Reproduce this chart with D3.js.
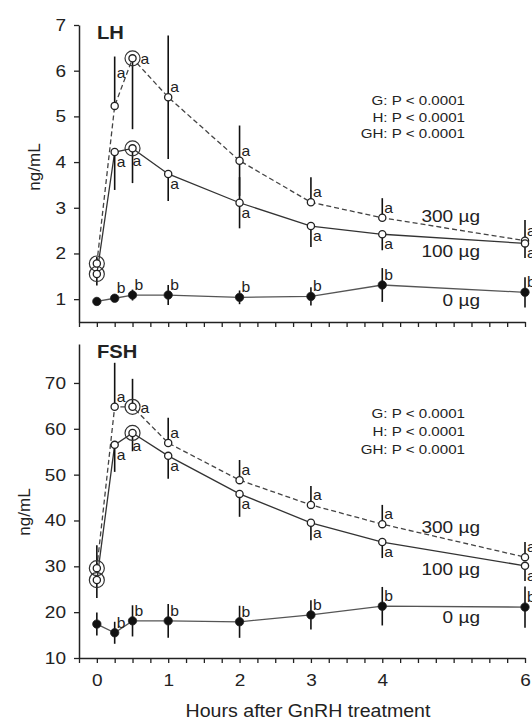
<!DOCTYPE html>
<html><head><meta charset="utf-8">
<script src="https://cdn.jsdelivr.net/npm/d3@7"></script>
<style>html,body{margin:0;padding:0;background:#fff;} svg{display:block;}</style>
</head><body>
<svg id="c" width="532" height="719"></svg>
<script>
// ---------- data ----------
const hours = [0, 0.25, 0.5, 1, 2, 3, 4, 6];
const xTickLabels = [0, 1, 2, 3, 4, 6];
const lhTicks = [1, 2, 3, 4, 5, 6, 7];
const fshTicks = [10, 20, 30, 40, 50, 60, 70];
const ringHours = [0, 0.5];

// LH (ng/mL)
const lh300 = [1.78, 5.23, 6.27, 5.42, 4.03, 3.12, 2.78, 2.28];
const lh300Up = [0.15, 1.08, 0, 1.35, 0.77, 0.55, 0.43, 0.45];
const lh300Down = [0, 0, 1.55, 1.35, 0.77, 0, 0, 0];
const lh100 = [1.55, 4.22, 4.30, 3.74, 3.11, 2.60, 2.42, 2.22];
const lh100Up = [0, 0, 0, 0, 0.56, 0, 0, 0];
const lh100Down = [0.25, 0.83, 0.76, 0.59, 0.56, 0.46, 0.35, 0.32];
const lh0 = [0.95, 1.02, 1.09, 1.09, 1.04, 1.06, 1.31, 1.15];
const lh0Err = [0.08, 0.06, 0.12, 0.22, 0.15, 0.20, 0.37, 0.33];

// FSH (ng/mL)
const fsh300 = [29.6, 64.8, 64.8, 56.9, 48.8, 43.4, 39.2, 32.0];
const fsh300Up = [5.0, 9.6, 6.1, 5.5, 4.4, 4.1, 4.2, 3.3];
const fsh300Down = [0, 0, 0, 0, 0, 0, 0, 0];
const fsh100 = [27.0, 56.5, 59.1, 54.1, 45.8, 39.5, 35.3, 30.1];
const fsh100Up = [0, 0, 0, 0, 0, 0, 0, 0];
const fsh100Down = [3.9, 5.9, 4.0, 5.0, 5.0, 3.8, 3.5, 3.3];
const fsh0 = [17.4, 15.5, 18.1, 18.1, 17.9, 19.4, 21.3, 21.1];
const fsh0Err = [2.5, 2.4, 3.4, 3.7, 3.5, 3.2, 4.2, 4.5];

// significance letters
const letters300 = ["", "a", "a", "a", "a", "a", "a", "a"];
const letters100 = ["", "a", "a", "a", "a", "a", "a", "a"];
const letters0 = ["", "b", "b", "b", "b", "b", "b", "b"];

const groupLabels = ["300 µg", "100 µg", "0 µg"];
const statsLines = ["G: P < 0.0001", "H: P < 0.0001", "GH: P < 0.0001"];
const panelTitles = ["LH", "FSH"];
const yTitle = "ng/mL";
const xTitle = "Hours after GnRH treatment";

// ---------- drawing ----------
const FONT = "'Liberation Sans', Arial, Helvetica, sans-serif";
const S = 1.12;          // horizontal text stretch
const INK = "#222";
const svg = d3.select("#c");

const x = d3.scaleLinear().domain([-0.25, 6]).range([79, 525]);
const xTicks = d3.range(-1, 25).map(i => i / 4);

function txt(g, px, py, str, size, anchor, weight) {
  const t = g.append("text")
    .attr("transform", `translate(${px},${py}) scale(${S},1)`)
    .attr("font-family", FONT).attr("font-size", size)
    .attr("fill", INK).attr("text-anchor", anchor || "start")
    .text(str);
  if (weight) t.attr("font-weight", weight);
  return t;
}

const panels = [
  { y: d3.scaleLinear().domain([0.5, 7]).range([322, 25]), ticks: lhTicks,
    v300: lh300, up300: lh300Up, dn300: lh300Down,
    v100: lh100, up100: lh100Up, dn100: lh100Down, v0: lh0, e0: lh0Err,
    title: panelTitles[0], titleY: 39, statsY: [105, 122, 138], groupY: [222, 257, 306],
    showX: false, ylabX: 40, ylabY: 167 },
  { y: d3.scaleLinear().domain([10, 78.5]).range([658, 344]), ticks: fshTicks,
    v300: fsh300, up300: fsh300Up, dn300: fsh300Down,
    v100: fsh100, up100: fsh100Up, dn100: fsh100Down, v0: fsh0, e0: fsh0Err,
    title: panelTitles[1], titleY: 358, statsY: [418, 436, 454], groupY: [533, 575, 623],
    showX: true, ylabX: 30, ylabY: 512 }
];

panels.forEach((p, pi) => {
  const y = p.y;
  const g = svg.append("g");
  const y0 = y.range()[0];

  // axes
  const ya = g.append("g").attr("transform", "translate(79,0)")
    .call(d3.axisLeft(y).tickValues(p.ticks).tickSize(5).tickPadding(8).tickSizeOuter(0)
      .tickFormat(d3.format("d")));
  const xa = g.append("g").attr("transform", `translate(0,${y0})`)
    .call(d3.axisBottom(x).tickValues(xTicks).tickSize(5).tickPadding(11).tickSizeOuter(0)
      .tickFormat(d => (p.showX && xTickLabels.includes(d)) ? d : ""));
  [ya, xa].forEach(a => {
    a.select(".domain").attr("stroke", INK).attr("stroke-width", 1.5);
    a.selectAll(".tick line").attr("stroke", INK).attr("stroke-width", 1.3);
    a.selectAll("text").attr("font-family", FONT).attr("font-size", 17).attr("fill", INK)
      .each(function () {
        const t = d3.select(this);
        const tx = +t.attr("x") || 0, ty = +t.attr("y") || 0;
        t.attr("x", 0).attr("y", 0).attr("transform", `translate(${tx},${ty}) scale(${S},1)`);
      });
  });

  // y title
  g.append("text").attr("transform", `translate(${p.ylabX},${p.ylabY}) rotate(-90)`)
    .attr("font-family", FONT).attr("font-size", 17).attr("fill", INK)
    .attr("text-anchor", "middle").text(yTitle);

  // panel title
  txt(g, 97, p.titleY, p.title, 18, "start", "bold");
  // stats
  statsLines.forEach((s, i) => txt(g, 465, p.statsY[i], s, 13.5, "end"));
  // group labels
  groupLabels.forEach((s, i) => txt(g, 480, p.groupY[i], s, 17, "end"));

  const series = [
    { v: p.v300, up: p.up300, dn: p.dn300, dash: "5,3", col: "#444", open: true, letters: letters300, key: 300 },
    { v: p.v100, up: p.up100, dn: p.dn100, dash: null, col: "#333", open: true, letters: letters100, key: 100 },
    { v: p.v0, up: p.e0, dn: p.e0, dash: null, col: "#555", open: false, letters: letters0, key: 0 }
  ];
  const line = d3.line().x(d => x(d.h)).y(d => y(d.v));

  series.forEach(s => {
    const pts = hours.map((h, i) => ({ h, v: s.v[i] }));
    g.append("path").datum(pts).attr("d", line).attr("fill", "none")
      .attr("stroke", s.col).attr("stroke-width", 1.3)
      .attr("stroke-dasharray", s.dash);
  });
  // error bars
  series.forEach(s => {
    hours.forEach((h, i) => {
      if (!s.up[i] && !s.dn[i]) return;
      g.append("line").attr("x1", x(h)).attr("x2", x(h))
        .attr("y1", y(s.v[i] + s.up[i])).attr("y2", y(s.v[i] - s.dn[i]))
        .attr("stroke", "#111").attr("stroke-width", 1.6);
    });
  });
  // rings
  series.filter(s => s.open).forEach(s => {
    hours.forEach((h, i) => {
      if (!ringHours.includes(h)) return;
      g.append("circle").attr("cx", x(h)).attr("cy", y(s.v[i])).attr("r", 7.5)
        .attr("fill", "none").attr("stroke", "#333").attr("stroke-width", 1.2);
    });
  });
  // markers
  series.forEach(s => {
    hours.forEach((h, i) => {
      g.append("circle").attr("cx", x(h)).attr("cy", y(s.v[i]))
        .attr("r", s.open ? 3.6 : 4.2)
        .attr("fill", s.open ? "#fff" : "#111")
        .attr("stroke", "#222").attr("stroke-width", s.open ? 1.3 : 0.8);
    });
  });
  // letters
  series.forEach(s => {
    hours.forEach((h, i) => {
      const L = s.letters[i];
      if (!L) return;
      let dx = 2, dy;
      const ring = ringHours.includes(h);
      if (s.key === 300) { dy = -5; if (ring) { dx = 8; dy = 6; } if (pi === 0 && h === 0.25) dy = -28; }
      else if (s.key === 100) { dy = 15; if (ring) { dx = 0; dy = 18; } }
      else { dy = -5; }
      txt(g, x(h) + dx, y(s.v[i]) + dy, L, 14, "start");
    });
  });
});

// x title
txt(svg, 308, 717, xTitle, 17.5, "middle");
</script>
</body></html>
